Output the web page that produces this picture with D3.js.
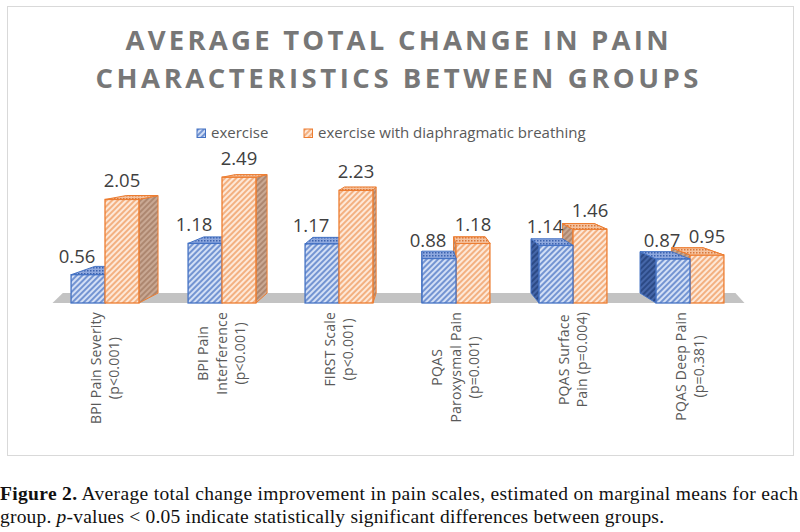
<!DOCTYPE html>
<html lang="en">
<head>
    <meta charset="UTF-8">
    <title>Average total change in pain characteristics</title>
    <script src="https://cdn.jsdelivr.net/npm/d3@7"></script>
    <style>
        body { margin: 0; background: #fff; }
        svg { display: block; }
    </style>
</head>
<body>
<script>
    // values
    var categories = ["BPI Pain Severity", "BPI Pain Interference", "FIRST Scale",
        "PQAS Paroxysmal Pain", "PQAS Surface Pain", "PQAS Deep Pain"];
    var categoryLines = [
        ["BPI Pain Severity", "(p<0.001)"],
        ["BPI Pain", "Interference", "(p<0.001)"],
        ["FIRST Scale", "(p<0.001)"],
        ["PQAS", "Paroxysmal Pain", "(p=0.001)"],
        ["PQAS Surface", "Pain (p=0.004)"],
        ["PQAS Deep Pain", "(p=0.381)"]
    ];
    var seriesNames = ["exercise", "exercise with diaphragmatic breathing"];
    var exerciseValues = [0.56, 1.18, 1.17, 0.88, 1.14, 0.87];
    var breathingValues = [2.05, 2.49, 2.23, 1.18, 1.46, 0.95];
    var titleLines = ["AVERAGE TOTAL CHANGE IN PAIN", "CHARACTERISTICS BETWEEN GROUPS"];

    var width = 800, height = 532;
    // fake perspective: back face pulled toward a vanishing point
    var VX = 420, VY = 131, AX = 0.068, AY = 0.058, AX_FLOOR = 0.028;

    var svg = d3.select("body").append("svg")
        .attr("width", width)
        .attr("height", height);

    var defs = svg.append("defs");
    function hatch(id, bg, line, w) {
        var p = defs.append("pattern").attr("id", id)
            .attr("patternUnits", "userSpaceOnUse")
            .attr("width", 4).attr("height", 4)
            .attr("patternTransform", "rotate(45)");
        p.append("rect").attr("width", 4).attr("height", 4).attr("fill", bg);
        p.append("line").attr("x1", 1).attr("y1", 0).attr("x2", 1).attr("y2", 4)
            .attr("stroke", line).attr("stroke-width", w);
    }
    function dots(id, bg, dot) {
        var p = defs.append("pattern").attr("id", id)
            .attr("patternUnits", "userSpaceOnUse")
            .attr("width", 3).attr("height", 3);
        p.append("rect").attr("width", 3).attr("height", 3).attr("fill", bg);
        p.append("rect").attr("width", 1.5).attr("height", 1.5).attr("fill", dot);
    }
    hatch("frontBlue", "#d3dff5", "#4a74c4", 1.4);
    hatch("frontOrange", "#fde8d8", "#f0995c", 1.4);
    hatch("sideBlue", "#2c4a86", "#5579c0", 1.2);
    hatch("sideOrange", "#c9a893", "#9a7159", 1.2);
    dots("topBlue", "#8ea8de", "#3c62ae");
    dots("topOrange", "#f5c3a0", "#d8783a");

    var colors = ["#4472c4", "#ed7d31"];
    var fills = [
        {front: "url(#frontBlue)", side: "url(#sideBlue)", top: "url(#topBlue)"},
        {front: "url(#frontOrange)", side: "url(#sideOrange)", top: "url(#topOrange)"}
    ];

    // chart frame
    svg.append("rect")
        .attr("x", 7.5).attr("y", 6.5)
        .attr("width", 786).attr("height", 449)
        .attr("fill", "#fff").attr("stroke", "#d9d9d9");

    var x = d3.scaleBand()
        .domain(categories)
        .range([46.5, 748.5])
        .paddingInner(0.42)
        .paddingOuter(0.21);
    var xs = d3.scaleBand()
        .domain(seriesNames)
        .range([0, x.bandwidth()]);
    var y = d3.scaleLinear()
        .domain([0, 3])
        .range([303, 151.5]);

    function back(p) {
        return [p[0] + AX * (VX - p[0]), p[1] + AY * (VY - p[1])];
    }
    function pts(list) {
        return list.map(function(p) { return p.join(","); }).join(" ");
    }

    // floor
    var fx0 = x.range()[0] + 6, fx1 = x.range()[1] - 4, fy = y(0);
    var fby = fy + AY * (VY - fy);
    svg.append("polygon")
        .attr("points", pts([[fx0, fy], [fx1, fy],
            [fx1 + AX_FLOOR * (VX - fx1), fby], [fx0 + AX_FLOOR * (VX - fx0), fby]]))
        .attr("fill", "#c3c3c3");

    // bars
    var seriesValues = [exerciseValues, breathingValues];
    var gBars = svg.append("g");
    categories.forEach(function(cat, i) {
        var bars = seriesNames.map(function(s, j) {
            var x0 = x(cat) + xs(s), x1 = x0 + xs.bandwidth();
            return {j: j, value: seriesValues[j][i], x0: x0, x1: x1,
                yt: y(seriesValues[j][i]), yb: y(0)};
        });
        var centre = x(cat) + x.bandwidth() / 2;
        var order = centre < VX ? bars : bars.slice().reverse();
        order.forEach(function(b) { drawBar(b); });
        var tallest = bars[0].value > bars[1].value ? bars[0] : bars[1];
        if (order[0] === tallest) drawTop(tallest);
    });

    function drawTop(b) {
        var a = [b.x0, b.yt], c = [b.x1, b.yt];
        gBars.append("polygon")
            .attr("points", pts([a, c, back(c), back(a)]))
            .attr("fill", fills[b.j].top)
            .attr("stroke", colors[b.j]).attr("stroke-width", 1)
            .attr("stroke-linejoin", "round");
    }
    function drawBar(b) {
        var sx = null;
        if (b.x1 < VX) sx = b.x1;
        else if (b.x0 > VX) sx = b.x0;
        if (sx !== null) {
            var t = [sx, b.yt], u = [sx, b.yb];
            gBars.append("polygon")
                .attr("points", pts([t, u, back(u), back(t)]))
                .attr("fill", fills[b.j].side)
                .attr("stroke", colors[b.j]).attr("stroke-width", 1)
                .attr("stroke-linejoin", "round");
        }
        drawTop(b);
        gBars.append("rect")
            .attr("x", b.x0).attr("y", b.yt)
            .attr("width", b.x1 - b.x0).attr("height", b.yb - b.yt)
            .attr("fill", fills[b.j].front)
            .attr("stroke", colors[b.j]).attr("stroke-width", 1.3);
    }

    // data labels
    var labelShift = [-11, 0];
    seriesNames.forEach(function(s, j) {
        svg.append("g").selectAll("text")
            .data(seriesValues[j])
            .join("text")
            .attr("x", function(d, i) { return x(categories[i]) + xs(s) + xs.bandwidth() / 2 + labelShift[j]; })
            .attr("y", function(d) { return y(d) - 12; })
            .attr("text-anchor", "middle")
            .attr("font-family", "'Open Sans', sans-serif")
            .attr("font-size", 18.5)
            .attr("fill", "#404040")
            .text(function(d) { return d.toFixed(2); });
    });

    // category labels, rotated, block top just below the floor
    var catG = svg.append("g")
        .attr("font-family", "'Open Sans', sans-serif")
        .attr("font-size", 14)
        .attr("fill", "#595959");
    categories.forEach(function(cat, i) {
        var lines = categoryLines[i];
        var cx = x(cat) + x.bandwidth() / 2;
        var texts = lines.map(function(line) {
            return catG.append("text")
                .attr("text-anchor", "middle")
                .attr("dy", "0.35em")
                .attr("letter-spacing", 0.2)
                .text(line);
        });
        var maxLen = d3.max(texts, function(t) { return t.node().getComputedTextLength(); });
        var cy = 312 + maxLen / 2;
        texts.forEach(function(t, k) {
            var lx = cx + (k - (lines.length - 1) / 2) * 18.5;
            t.attr("transform", "translate(" + lx + "," + cy + ") rotate(-90)");
        });
    });

    // title
    var titleWidths = [543, 603];
    svg.append("g").selectAll("text")
        .data(titleLines)
        .join("text")
        .attr("x", 397)
        .attr("y", function(d, i) { return 50 + i * 38; })
        .attr("text-anchor", "middle")
        .attr("font-family", "'Open Sans', sans-serif")
        .attr("font-weight", "bold")
        .attr("font-size", 27.5)
        .attr("fill", "#777")
        .attr("textLength", function(d, i) { return titleWidths[i]; })
        .attr("lengthAdjust", "spacing")
        .text(function(d) { return d; });

    // legend
    var legendX = [197, 304];
    var legend = svg.append("g").selectAll("g")
        .data(seriesNames)
        .join("g")
        .attr("transform", function(d, j) { return "translate(" + legendX[j] + ",129)"; });
    legend.append("rect")
        .attr("width", 8.5).attr("height", 8.5)
        .attr("fill", function(d, j) { return fills[j].front; })
        .attr("stroke", function(d, j) { return colors[j]; })
        .attr("stroke-width", 1);
    legend.append("text")
        .attr("x", 14).attr("y", 9)
        .attr("font-family", "'Open Sans', sans-serif")
        .attr("font-size", 15)
        .attr("fill", "#595959")
        .text(function(d) { return d; });

    // caption under the figure
    var cap1 = svg.append("text")
        .attr("x", 0).attr("y", 500)
        .attr("font-family", "'Liberation Serif', serif")
        .attr("font-size", 19.5)
        .attr("fill", "#111")
        .attr("textLength", 798)
        .attr("lengthAdjust", "spacing");
    cap1.append("tspan").attr("font-weight", "bold").text("Figure 2.");
    cap1.append("tspan").text(" Average total change improvement in pain scales, estimated on marginal means for each");

    var cap2 = svg.append("text")
        .attr("x", 0).attr("y", 523)
        .attr("font-family", "'Liberation Serif', serif")
        .attr("font-size", 19.5)
        .attr("fill", "#111")
        .attr("textLength", 664)
        .attr("lengthAdjust", "spacing");
    cap2.append("tspan").text("group. ");
    cap2.append("tspan").attr("font-style", "italic").text("p");
    cap2.append("tspan").text("-values < 0.05 indicate statistically significant differences between groups.");
</script>
</body>
</html>
